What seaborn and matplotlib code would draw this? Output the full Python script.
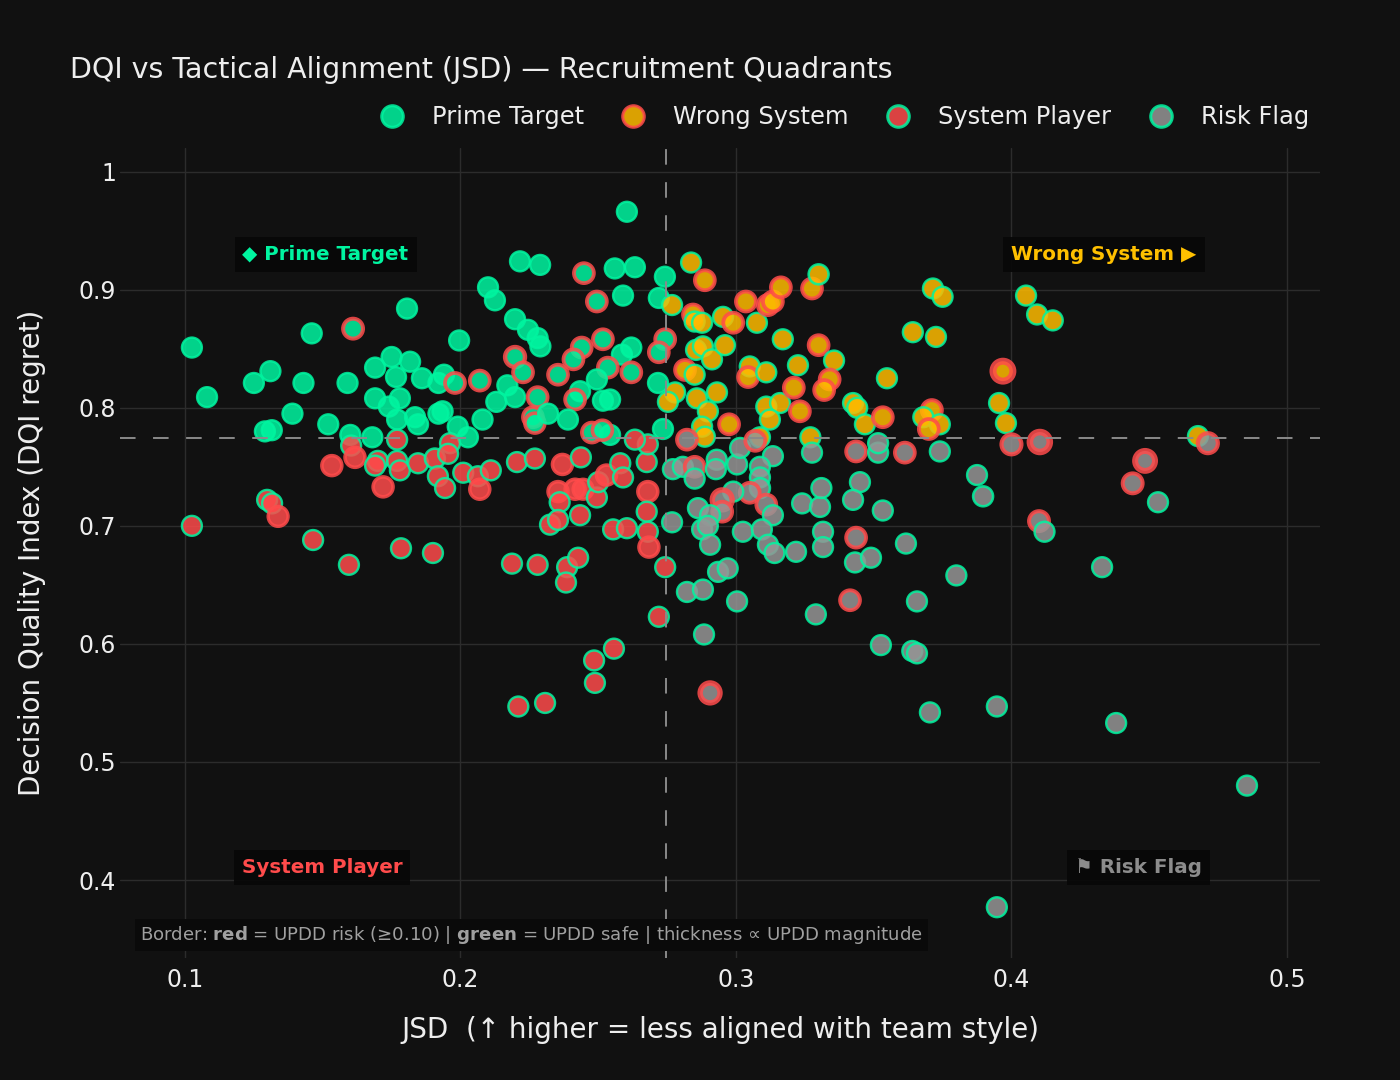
import matplotlib
matplotlib.use("Agg")
import matplotlib.pyplot as plt
from matplotlib.lines import Line2D
import pandas as pd
import seaborn as sns

# (jsd, dqi, updd), one list per quadrant
prime_target = [
    (0.1025, 0.851, 0.07), (0.108, 0.809, 0.07), (0.125, 0.821, 0.07), (0.131, 0.831, 0.07),
    (0.143, 0.821, 0.07), (0.146, 0.863, 0.07), (0.139, 0.795, 0.07), (0.129, 0.780, 0.07),
    (0.1315, 0.781, 0.07), (0.152, 0.786, 0.07), (0.159, 0.821, 0.07), (0.161, 0.867, 0.15),
    (0.160, 0.777, 0.07), (0.168, 0.775, 0.07), (0.169, 0.834, 0.07), (0.175, 0.843, 0.07),
    (0.1817, 0.839, 0.07), (0.1766, 0.826, 0.07), (0.1806, 0.884, 0.07), (0.186, 0.825, 0.07),
    (0.192, 0.821, 0.07), (0.194, 0.828, 0.07), (0.198, 0.821, 0.14), (0.1995, 0.857, 0.07),
    (0.207, 0.823, 0.14), (0.169, 0.808, 0.07), (0.178, 0.808, 0.07), (0.174, 0.801, 0.07),
    (0.177, 0.790, 0.07), (0.1835, 0.792, 0.07), (0.1846, 0.786, 0.07), (0.192, 0.795, 0.07),
    (0.1935, 0.797, 0.07), (0.199, 0.784, 0.07), (0.2027, 0.775, 0.07), (0.208, 0.790, 0.07),
    (0.213, 0.805, 0.07), (0.217, 0.819, 0.07), (0.2198, 0.809, 0.07), (0.2198, 0.875, 0.07),
    (0.210, 0.902, 0.07), (0.2125, 0.891, 0.07), (0.2216, 0.924, 0.07), (0.2198, 0.843, 0.17),
    (0.2227, 0.830, 0.14), (0.2245, 0.866, 0.07), (0.2263, 0.792, 0.14), (0.2270, 0.787, 0.13),
    (0.2604, 0.966, 0.07), (0.2289, 0.921, 0.07), (0.2448, 0.914, 0.14), (0.256, 0.918, 0.07),
    (0.2633, 0.919, 0.07), (0.2742, 0.911, 0.07), (0.2495, 0.890, 0.14), (0.259, 0.895, 0.07),
    (0.272, 0.893, 0.07), (0.228, 0.859, 0.07), (0.229, 0.852, 0.07), (0.244, 0.851, 0.14),
    (0.2517, 0.858, 0.14), (0.262, 0.851, 0.07), (0.2586, 0.845, 0.07), (0.241, 0.841, 0.14),
    (0.2354, 0.828, 0.14), (0.2535, 0.834, 0.14), (0.2495, 0.824, 0.07), (0.2434, 0.814, 0.07),
    (0.2517, 0.806, 0.07), (0.2543, 0.807, 0.07), (0.262, 0.830, 0.14), (0.2743, 0.858, 0.14),
    (0.272, 0.847, 0.14), (0.2717, 0.821, 0.07), (0.2416, 0.807, 0.14), (0.228, 0.809, 0.14),
    (0.2318, 0.795, 0.07), (0.239, 0.790, 0.07), (0.2477, 0.779, 0.14), (0.2543, 0.777, 0.07),
    (0.2515, 0.781, 0.13), (0.2735, 0.782, 0.07),
]

wrong_system = [
    (0.2837, 0.923, 0.07), (0.2887, 0.908, 0.14), (0.2768, 0.887, 0.07), (0.2844, 0.879, 0.14),
    (0.285, 0.873, 0.07), (0.2877, 0.872, 0.07), (0.2953, 0.877, 0.07), (0.299, 0.872, 0.14),
    (0.3036, 0.890, 0.14), (0.3076, 0.872, 0.07), (0.3116, 0.887, 0.15), (0.3134, 0.890, 0.14),
    (0.3163, 0.902, 0.14), (0.3276, 0.901, 0.14), (0.330, 0.913, 0.08), (0.2855, 0.849, 0.07),
    (0.288, 0.852, 0.07), (0.2913, 0.841, 0.07), (0.296, 0.853, 0.07), (0.2815, 0.832, 0.14),
    (0.285, 0.828, 0.07), (0.2779, 0.813, 0.07), (0.2753, 0.805, 0.07), (0.2858, 0.808, 0.07),
    (0.2931, 0.813, 0.07), (0.2898, 0.797, 0.07), (0.2877, 0.784, 0.07), (0.2975, 0.786, 0.14),
    (0.305, 0.835, 0.07), (0.3044, 0.826, 0.14), (0.311, 0.830, 0.07), (0.311, 0.801, 0.07),
    (0.316, 0.804, 0.07), (0.3123, 0.790, 0.07), (0.3087, 0.775, 0.07), (0.317, 0.858, 0.07),
    (0.3225, 0.836, 0.07), (0.321, 0.817, 0.14), (0.3232, 0.797, 0.14), (0.330, 0.853, 0.14),
    (0.3356, 0.840, 0.07), (0.334, 0.824, 0.14), (0.332, 0.815, 0.14), (0.327, 0.775, 0.07),
    (0.3425, 0.804, 0.07), (0.344, 0.800, 0.07), (0.3468, 0.786, 0.07), (0.3533, 0.792, 0.14),
    (0.3548, 0.825, 0.07), (0.3642, 0.864, 0.07), (0.3715, 0.901, 0.07), (0.375, 0.894, 0.07),
    (0.3726, 0.860, 0.07), (0.4053, 0.895, 0.07), (0.4093, 0.879, 0.07), (0.415, 0.874, 0.07),
    (0.3969, 0.831, 0.30), (0.3955, 0.804, 0.07), (0.398, 0.787, 0.07), (0.3711, 0.798, 0.15),
    (0.368, 0.792, 0.07), (0.374, 0.786, 0.07), (0.370, 0.782, 0.14), (0.4677, 0.776, 0.07),
    (0.2887, 0.7755, 0.07),
]

system_player = [
    (0.177, 0.773, 0.07), (0.1962, 0.770, 0.07), (0.1025, 0.700, 0.07), (0.1298, 0.722, 0.07),
    (0.1316, 0.719, 0.07), (0.1338, 0.708, 0.12), (0.1465, 0.688, 0.07), (0.1595, 0.667, 0.07),
    (0.1784, 0.681, 0.07), (0.190, 0.677, 0.07), (0.2187, 0.668, 0.07), (0.1533, 0.751, 0.13),
    (0.1603, 0.768, 0.07), (0.1617, 0.758, 0.13), (0.1719, 0.733, 0.13), (0.170, 0.755, 0.07),
    (0.169, 0.751, 0.07), (0.177, 0.755, 0.07), (0.178, 0.747, 0.07), (0.1846, 0.753, 0.07),
    (0.1907, 0.757, 0.08), (0.1955, 0.761, 0.07), (0.1918, 0.742, 0.07), (0.1944, 0.732, 0.07),
    (0.201, 0.745, 0.07), (0.2063, 0.742, 0.07), (0.207, 0.731, 0.13), (0.211, 0.747, 0.07),
    (0.2205, 0.754, 0.07), (0.227, 0.757, 0.07), (0.237, 0.752, 0.13), (0.2437, 0.758, 0.07),
    (0.2354, 0.729, 0.13), (0.2416, 0.731, 0.13), (0.2445, 0.731, 0.12), (0.236, 0.720, 0.07),
    (0.2495, 0.724, 0.07), (0.250, 0.737, 0.07), (0.253, 0.743, 0.13), (0.258, 0.753, 0.07),
    (0.259, 0.741, 0.07), (0.2676, 0.754, 0.07), (0.268, 0.769, 0.07), (0.2633, 0.773, 0.07),
    (0.268, 0.729, 0.13), (0.2676, 0.712, 0.07), (0.268, 0.695, 0.07), (0.2684, 0.682, 0.13),
    (0.2325, 0.701, 0.07), (0.2354, 0.705, 0.07), (0.2434, 0.709, 0.07), (0.2554, 0.697, 0.07),
    (0.2604, 0.698, 0.07), (0.2743, 0.665, 0.07), (0.272, 0.623, 0.07), (0.228, 0.667, 0.07),
    (0.2387, 0.665, 0.07), (0.2427, 0.673, 0.07), (0.2383, 0.652, 0.07), (0.2557, 0.596, 0.07),
    (0.2485, 0.586, 0.07), (0.2488, 0.567, 0.07), (0.221, 0.547, 0.07), (0.2307, 0.550, 0.07),
]

risk_flag = [
    (0.2771, 0.748, 0.07), (0.2807, 0.750, 0.07), (0.285, 0.750, 0.14), (0.285, 0.740, 0.07),
    (0.293, 0.756, 0.07), (0.2927, 0.748, 0.07), (0.3004, 0.752, 0.07), (0.3015, 0.766, 0.07),
    (0.307, 0.772, 0.14), (0.3134, 0.759, 0.07), (0.3087, 0.750, 0.07), (0.3087, 0.741, 0.07),
    (0.3087, 0.732, 0.08), (0.305, 0.728, 0.14), (0.299, 0.729, 0.07), (0.295, 0.722, 0.22),
    (0.295, 0.712, 0.14), (0.311, 0.718, 0.14), (0.3134, 0.709, 0.07), (0.2862, 0.715, 0.07),
    (0.2906, 0.709, 0.07), (0.2768, 0.703, 0.07), (0.2877, 0.697, 0.07), (0.2898, 0.700, 0.07),
    (0.2906, 0.684, 0.07), (0.3025, 0.695, 0.07), (0.3094, 0.697, 0.07), (0.3116, 0.684, 0.07),
    (0.314, 0.677, 0.07), (0.3218, 0.678, 0.07), (0.324, 0.719, 0.07), (0.3305, 0.716, 0.07),
    (0.331, 0.732, 0.07), (0.3276, 0.762, 0.07), (0.3316, 0.695, 0.07), (0.3316, 0.682, 0.07),
    (0.3436, 0.763, 0.14), (0.3516, 0.762, 0.07), (0.3516, 0.770, 0.07), (0.3613, 0.762, 0.14),
    (0.345, 0.737, 0.07), (0.3425, 0.722, 0.07), (0.3533, 0.713, 0.07), (0.3436, 0.690, 0.14),
    (0.3432, 0.669, 0.07), (0.349, 0.673, 0.07), (0.3617, 0.685, 0.07), (0.3414, 0.637, 0.14),
    (0.329, 0.625, 0.07), (0.3526, 0.599, 0.07), (0.364, 0.594, 0.07), (0.3657, 0.592, 0.07),
    (0.3657, 0.636, 0.07), (0.2935, 0.661, 0.07), (0.297, 0.664, 0.07), (0.2822, 0.644, 0.07),
    (0.288, 0.646, 0.07), (0.3004, 0.636, 0.07), (0.2884, 0.608, 0.07), (0.374, 0.763, 0.07),
    (0.3875, 0.743, 0.07), (0.3897, 0.725, 0.08), (0.400, 0.769, 0.16), (0.4103, 0.771, 0.28),
    (0.4713, 0.770, 0.16), (0.4485, 0.755, 0.25), (0.444, 0.736, 0.15), (0.4532, 0.720, 0.07),
    (0.410, 0.704, 0.15), (0.412, 0.695, 0.07), (0.4329, 0.665, 0.07), (0.380, 0.658, 0.07),
    (0.2906, 0.5585, 0.22), (0.3704, 0.542, 0.07), (0.3947, 0.547, 0.07), (0.438, 0.533, 0.07),
    (0.4855, 0.480, 0.07), (0.3947, 0.377, 0.07), (0.2822, 0.773, 0.14),
]

quadrant_names = ["Prime Target", "Wrong System", "System Player", "Risk Flag"]
jsd_split = 0.2746
dqi_split = 0.7746
updd_risk = 0.10
x_ticks = [0.1, 0.2, 0.3, 0.4, 0.5]
x_tick_labels = ["0.1", "0.2", "0.3", "0.4", "0.5"]
y_ticks = [0.4, 0.5, 0.6, 0.7, 0.8, 0.9, 1.0]
y_tick_labels = ["0.4", "0.5", "0.6", "0.7", "0.8", "0.9", "1"]

BG = "#111111"
GREEN = "#00F5A0"
RED = "#FF4B4B"
fills = {"Prime Target": GREEN, "Wrong System": "#FFBB00",
         "System Player": RED, "Risk Flag": "#969696"}
legend_edges = {"Prime Target": GREEN, "Wrong System": RED,
                "System Player": GREEN, "Risk Flag": GREEN}

frames = []
for name, pts in zip(quadrant_names, [prime_target, wrong_system, system_player, risk_flag]):
    part = pd.DataFrame(pts, columns=["jsd", "dqi", "updd"])
    part["quadrant"] = name
    frames.append(part)
df = pd.concat(frames, ignore_index=True)

sns.set_style("dark", {"axes.facecolor": BG, "figure.facecolor": BG})
plt.rcParams["font.family"] = ["DejaVu Sans"]
plt.rcParams["mathtext.fontset"] = "dejavusans"

fig = plt.figure(figsize=(14, 10.8), dpi=100)
ax = fig.add_axes([120 / 1400, 122 / 1080, 1200 / 1400, 810 / 1080])
ax.set_facecolor(BG)

for name in quadrant_names:
    sub = df[df["quadrant"] == name]
    edges = [RED if u >= updd_risk else GREEN for u in sub["updd"]]
    widths = (1 + sub["updd"].to_numpy() * 20) * 0.72
    sns.scatterplot(data=sub, x="jsd", y="dqi", color=fills[name], edgecolor=edges,
                    linewidth=widths, s=205, alpha=0.85, ax=ax, legend=False, zorder=3)

# median split lines
ax.axvline(jsd_split, color="#8a8a8a", lw=1.4, ls=(0, (8, 9)), zorder=4)
ax.axhline(dqi_split, color="#8a8a8a", lw=1.4, ls=(0, (8, 9)), zorder=4)

ax.set_xlim(0.0764, 0.512)
ax.set_ylim(0.334, 1.020)
ax.set_xticks(x_ticks)
ax.set_xticklabels(x_tick_labels)
ax.set_yticks(y_ticks)
ax.set_yticklabels(y_tick_labels)
ax.tick_params(colors="#eeeeee", labelsize=17, length=0)
ax.tick_params(axis="x", pad=7)
ax.tick_params(axis="y", pad=3)
ax.grid(True, color="#2c2c2c", lw=1.0)
ax.set_axisbelow(True)
for s in ax.spines.values():
    s.set_visible(False)

ax.set_xlabel("JSD  (\u2191 higher = less aligned with team style)", color="#eeeeee", fontsize=20)
ax.set_ylabel("Decision Quality Index (DQI regret)", color="#eeeeee", fontsize=20)
ax.xaxis.set_label_coords(600 / 1200, -72 / 810)
ax.xaxis.label.set_va("center")
ax.yaxis.set_label_coords(-88 / 1200, 0.5)
ax.yaxis.label.set_va("center")

fig.text(70 / 1400, 1 - 70 / 1080, "DQI vs Tactical Alignment (JSD) \u2014 Recruitment Quadrants",
         color="#eeeeee", fontsize=20.5, ha="left", va="center")

# quadrant labels
box = dict(boxstyle="square,pad=0.4", facecolor="#070707", edgecolor="none", alpha=0.9)
ax.text(0.151, 0.930, "\u25c6 Prime Target", color=GREEN, fontsize=14.3, fontweight="bold",
        ha="center", va="center", bbox=box, zorder=5)
ax.text(0.4336, 0.930, "Wrong System \u25b6", color="#FFC000", fontsize=14.3, fontweight="bold",
        ha="center", va="center", bbox=box, zorder=5)
ax.text(0.1497, 0.411, "System Player", color=RED, fontsize=14.3, fontweight="bold",
        ha="center", va="center", bbox=box, zorder=5)
ax.text(0.446, 0.411, "\u2691 Risk Flag", color="#8c8c8c", fontsize=14.3, fontweight="bold",
        ha="center", va="center", bbox=box, zorder=5)

ax.text(20 / 1200, 12 / 810,
        "Border: $\\mathbf{red}$ = UPDD risk (\u22650.10) | $\\mathbf{green}$ = UPDD safe | "
        "thickness \u221d UPDD magnitude",
        transform=ax.transAxes, color="#a0a0a0", fontsize=13.1, ha="left", va="bottom",
        bbox=dict(boxstyle="square,pad=0.3", facecolor="#0a0a0a", edgecolor="none"), zorder=5)

handles = [Line2D([], [], ls="", marker="o", markersize=15.5, markerfacecolor=fills[n],
                  markeredgecolor=legend_edges[n], markeredgewidth=2.2, alpha=0.85)
           for n in quadrant_names]
leg = fig.legend(handles, quadrant_names, loc="center right", bbox_to_anchor=(1321 / 1400, 1 - 117 / 1080),
                 ncol=4, frameon=False, fontsize=17.4, handlelength=1.0, handletextpad=1.15,
                 columnspacing=1.55, borderpad=0)
for t in leg.get_texts():
    t.set_color("#eeeeee")

fig.savefig("out.png", dpi=100, facecolor=BG)
